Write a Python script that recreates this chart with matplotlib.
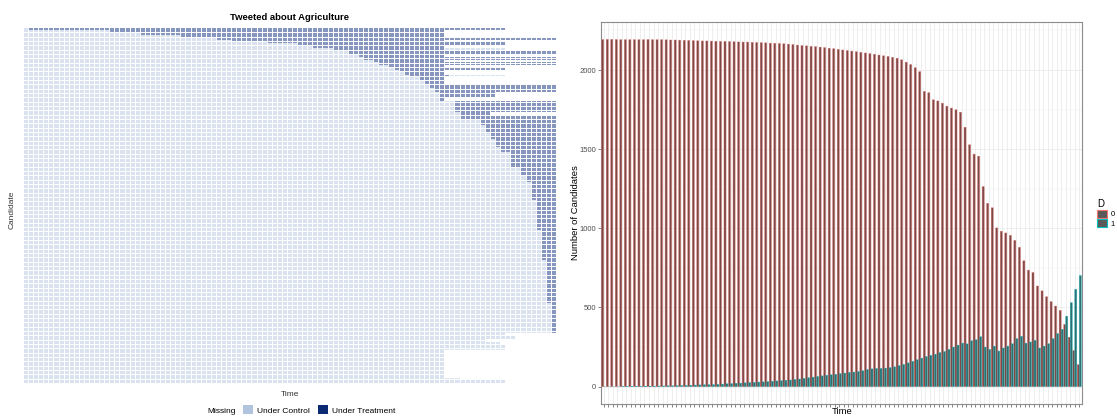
import numpy as np
import matplotlib
matplotlib.use("Agg")
import matplotlib.pyplot as plt
from matplotlib.patches import Patch

plt.rcParams['font.family'] = ['Liberation Sans', 'DejaVu Sans']

# ---------------- Left panel data: cohorts of candidates ----------------
n_periods_left = 105
group_size = [12, 15, 15, 15, 14, 10, 12, 15, 15, 18,
              18, 22, 15, 15, 15, 12, 18, 18, 18, 12,
              18, 22, 25, 28, 28, 28, 62, 25, 25, 31,
              43, 43, 49, 31, 93, 49, 43, 111, 185, 185,
              265, 185, 19, 19, 19, 19, 31, 173, 9, 22]
group_treat_on = [2, 18, 24, 32, 39, 42, 49, 55, 58, 62,
                  65, 67, 68, 70, 71, 73, 74, 75, 76, 77,
                  79, 80, 81, 82, 83, 83, 86, 87, 87, 91,
                  92, 93, 94, 95, 97, 99, 100, 101, 102, 103,
                  104, 105, 0, 0, 0, 0, 0, 0, 0, 0]
group_treat_off = [95, 83, 83, 83, 105, 83, 95, 95, 83, 83,
                   105, 83, 105, 83, 105, 83, 95, 83, 83, 84,
                   83, 83, 105, 105, 93, 83, 105, 92, 105, 105,
                   105, 105, 105, 105, 105, 105, 105, 105, 105, 105,
                   105, 105, 0, 0, 0, 0, 0, 0, 0, 0]
group_last_obs = [95, 83, 83, 83, 105, 83, 95, 95, 83, 95,
                  105, 83, 105, 83, 105, 83, 95, 83, 83, 95,
                  83, 83, 105, 105, 93, 83, 105, 92, 105, 105,
                  105, 105, 105, 105, 105, 105, 105, 105, 105, 105,
                  105, 105, 95, 97, 91, 94, 95, 83, 86, 95]

# ---------------- Right panel data ----------------
time_periods = list(range(1, 107))
count_d0 = [2193, 2194, 2194, 2193, 2192, 2192, 2192, 2192, 2192, 2192,
            2193, 2192, 2192, 2192, 2191, 2190, 2190, 2189, 2188, 2187,
            2186, 2185, 2184, 2184, 2183, 2182, 2181, 2181, 2180, 2179,
            2178, 2177, 2177, 2175, 2174, 2173, 2172, 2170, 2169, 2168,
            2166, 2164, 2161, 2158, 2155, 2153, 2150, 2148, 2145, 2142,
            2138, 2135, 2131, 2127, 2123, 2120, 2116, 2112, 2108, 2104,
            2100, 2095, 2090, 2086, 2080, 2075, 2065, 2050, 2035, 2015,
            1990, 1865, 1857, 1812, 1805, 1791, 1772, 1760, 1749, 1734,
            1639, 1528, 1469, 1456, 1264, 1158, 1130, 1003, 982, 971,
            956, 924, 880, 795, 736, 721, 636, 605, 568, 537,
            509, 482, 393, 312, 228, 139]
count_d1 = [0, 0, 0, 0, 1, 1, 2, 2, 2, 3,
            3, 3, 4, 4, 5, 5, 6, 7, 8, 9,
            10, 11, 12, 12, 13, 14, 16, 18, 19, 21,
            22, 24, 26, 27, 29, 30, 32, 34, 36, 38,
            40, 42, 45, 48, 52, 56, 60, 64, 68, 72,
            75, 78, 82, 86, 90, 92, 96, 100, 108, 112,
            115, 115, 117, 120, 125, 133, 140, 150, 160, 170,
            180, 190, 198, 205, 215, 222, 235, 250, 262, 275,
            270, 290, 296, 315, 250, 235, 256, 225, 244, 256,
            271, 303, 318, 275, 282, 292, 244, 256, 271, 303,
            335, 362, 445, 530, 615, 702]

W, H = 1117, 417
fig = plt.figure(figsize=(W / 100, H / 100), dpi=100)


def fx(px):
    return px / W


def fy(py):
    return 1 - py / H


# ---------------- Left panel ----------------
ctrl_col = '#DAE2EF'
trt_col = '#8696BE'
axL = fig.add_axes([fx(23), fy(383), fx(556) - fx(23), fy(28) - fy(383)])
y0 = 0
for size, on, off, last in zip(group_size, group_treat_on, group_treat_off, group_last_obs):
    axL.barh(y0, last, left=0.5, height=size, align='edge', color=ctrl_col, lw=0)
    if on > 0:
        axL.barh(y0, off - on + 1, left=on - 0.5, height=size, align='edge',
                 color=trt_col, lw=0)
    y0 += size
total = y0
axL.set_xlim(0.5, n_periods_left + 0.5)
axL.set_ylim(total, 0)
for j in range(n_periods_left + 1):
    axL.axvline(j + 0.5, color='white', lw=0.7)
n_vis_rows = 82
for r in range(1, n_vis_rows):
    axL.axhline(total * r / n_vis_rows, color='white', lw=0.7)
axL.axis('off')

fig.text(fx(290), fy(18), 'Tweeted about Agriculture', ha='center', va='center',
         fontsize=6.8, fontweight='bold')
fig.text(fx(290), fy(394), 'Time', ha='center', va='center', fontsize=6, color='#333333')
fig.text(fx(12), fy(210), 'Candidate', ha='center', va='center', rotation=90,
         fontsize=6, color='#333333')
fig.legend(handles=[Patch(facecolor='white', edgecolor='none', label='Missing'),
                    Patch(facecolor='#B0C4DE', edgecolor='none', label='Under Control'),
                    Patch(facecolor='#0B2A73', edgecolor='none', label='Under Treatment')],
           loc='center', bbox_to_anchor=(fx(294), fy(410)), ncol=3, frameon=False,
           fontsize=6, handlelength=1.2, handleheight=1.2, handletextpad=0.5,
           columnspacing=0.9, borderpad=0)

# ---------------- Right panel ----------------
axR = fig.add_axes([fx(601), fy(404), fx(1082) - fx(601), fy(22) - fy(404)])
k = np.array(time_periods)
b0 = axR.bar(k - 0.225, count_d0, width=0.45, color='#7A4A48', edgecolor='#E0706A',
             lw=0.3, zorder=3)
b1 = axR.bar(k + 0.225, count_d1, width=0.45, color='#2F6F70', edgecolor='#1FB5BA',
             lw=0.3, zorder=3)
for p in list(b0) + list(b1):
    p.set_snap(False)
top = max(max(count_d0), max(count_d1))
axR.set_ylim(-0.05 * top, 1.05 * top)
axR.set_xlim(0.4, len(k) + 0.6)
axR.set_xticks(k)
axR.set_xticklabels([])
axR.set_yticks([0, 500, 1000, 1500, 2000])
axR.set_yticks([250, 750, 1250, 1750, 2250], minor=True)
axR.grid(True, which='major', color='#EBEBEB', lw=0.6, zorder=0)
axR.grid(True, which='minor', axis='y', color='#F2F2F2', lw=0.35, zorder=0)
axR.set_axisbelow(True)
axR.tick_params(axis='both', which='major', length=2, width=0.5, color='#555555',
                labelsize=5.5, labelcolor='#4D4D4D', pad=1.5)
axR.tick_params(axis='y', which='minor', length=0)
for s in axR.spines.values():
    s.set_color('#8C8C8C')
    s.set_linewidth(0.8)
fig.text(fx(842), fy(411), 'Time', ha='center', va='center', fontsize=6.8)
fig.text(fx(575), fy(213), 'Number of Candidates', ha='center', va='center',
         rotation=90, fontsize=6.8)
fig.legend(handles=[Patch(facecolor='#595959', edgecolor='#F8766D', lw=0.8, label='0'),
                    Patch(facecolor='#595959', edgecolor='#00BFC4', lw=0.8, label='1')],
           title='D', loc='upper left', bbox_to_anchor=(fx(1093), fy(195)),
           frameon=False, fontsize=5.5, title_fontsize=7, handlelength=1.3,
           handleheight=1.3, handletextpad=0.5, labelspacing=0.1, borderpad=0,
           alignment='left')

fig.savefig('out.png', dpi=100)
